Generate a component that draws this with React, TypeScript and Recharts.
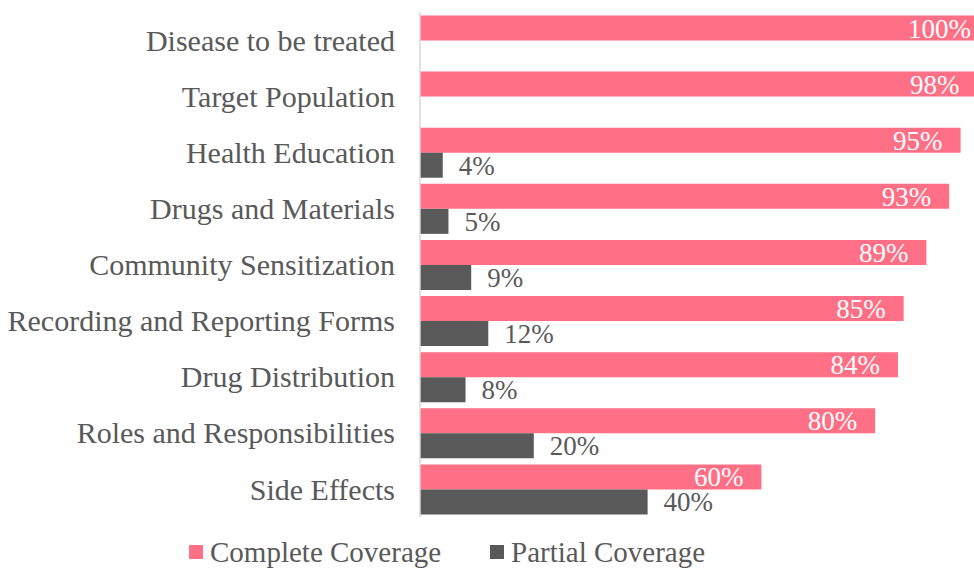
import { BarChart, Bar, XAxis, YAxis, Legend, LabelList } from 'recharts';

const categories = [
  'Disease to be treated',
  'Target Population',
  'Health Education',
  'Drugs and Materials',
  'Community Sensitization',
  'Recording and Reporting Forms',
  'Drug Distribution',
  'Roles and Responsibilities',
  'Side Effects',
];
const completeCoverage = [100, 98, 95, 93, 89, 85, 84, 80, 60];
const partialCoverage = [null, null, 4, 5, 9, 12, 8, 20, 40];

const data = categories.map((name, i) => ({
  name,
  complete: completeCoverage[i],
  partial: partialCoverage[i],
}));

const PINK = '#FF6F85';
const GRAY = '#595959';
const FONT = '"Liberation Serif", "DejaVu Serif", serif';

const pct = (v: any) => (v == null ? '' : `${v}%`);

function LegendBox({ payload }: any) {
  const lefts = [189, 490];
  return (
    <div style={{ position: 'relative', height: 52, fontFamily: FONT, fontSize: 29, lineHeight: '32px', color: GRAY }}>
      {(payload || []).map((p: any, i: number) => (
        <div key={p.value} style={{ position: 'absolute', left: lefts[i], top: 19, display: 'flex', alignItems: 'center', whiteSpace: 'nowrap' }}>
          <span style={{ width: 14, height: 14, background: p.color, display: 'inline-block', marginRight: 7 }} />
          <span>{p.value}</span>
        </div>
      ))}
    </div>
  );
}

export default function App() {
  return (
    <div style={{ position: 'absolute', left: 0, top: 0, width: 974, height: 569, overflow: 'hidden', background: '#fff' }}>
      <BarChart
        width={1000}
        height={569}
        data={data}
        layout="vertical"
        margin={{ top: 12, right: 11, bottom: 0, left: 0 }}
        barCategoryGap={3.5}
        barGap={0}
      >
        <XAxis type="number" domain={[0, 100]} hide />
        <YAxis
          type="category"
          dataKey="name"
          width={420}
          axisLine={{ stroke: '#D9D9D9', strokeWidth: 1.5 }}
          tickLine={false}
          tickSize={0}
          tickMargin={25}
          tick={{ fill: GRAY, fontSize: 30, fontFamily: FONT }}
        />
        <Legend verticalAlign="bottom" content={<LegendBox />} />
        <Bar dataKey="complete" name="Complete Coverage" fill={PINK} isAnimationActive={false}>
          <LabelList dataKey="complete" position="insideRight" offset={18} fill="#fff" fontSize={27} fontFamily={FONT} formatter={pct} />
        </Bar>
        <Bar dataKey="partial" name="Partial Coverage" fill={GRAY} isAnimationActive={false}>
          <LabelList dataKey="partial" position="right" offset={16} fill={GRAY} fontSize={27} fontFamily={FONT} formatter={pct} />
        </Bar>
      </BarChart>
    </div>
  );
}
